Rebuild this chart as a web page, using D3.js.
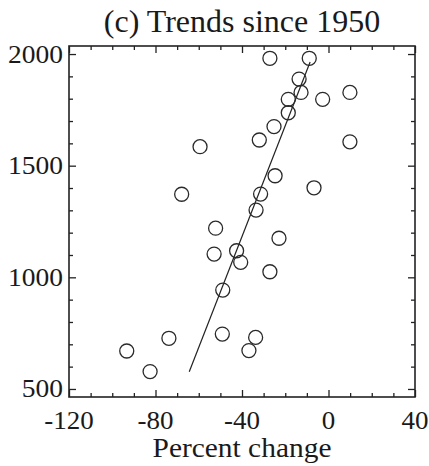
<!DOCTYPE html>
<html>
<head>
<meta charset="utf-8">
<script src="https://cdn.jsdelivr.net/npm/d3@7"></script>
<style>
  html, body { margin: 0; padding: 0; background: #fff; }
  svg { display: block; }
  text { font-family: "Liberation Serif", "DejaVu Serif", serif; fill: #1a1a1a; }
</style>
</head>
<body>
<script>
// ---- data ----
const title = "(c) Trends since 1950";
const xLabel = "Percent change";
const percentChange = [-59.4, -67.9, -27.1, -8.9, -13.6, -12.7, -18.6, -18.6, -2.7, 9.9,
                       9.9, -25.2, -32.0, -24.7, -31.4, -33.5, -6.7, -52.2, -22.9, -52.9,
                       -42.5, -40.6, -27.1, -48.9, -49.1, -33.7, -36.8, -93.3, -82.5, -73.8];
const elevation = [1585, 1372, 1981, 1981, 1888, 1828, 1797, 1737, 1797, 1828,
                   1607, 1675, 1615, 1455, 1373, 1301, 1401, 1220, 1175, 1104,
                   1119, 1067, 1025, 943, 746, 731, 672, 670, 578, 727];
const trendX = [-64.4, -8.5];
const trendY = [577, 1964];
const xTicks = [-120, -80, -40, 0, 40];
const yTicks = [500, 1000, 1500, 2000];
const xDomain = [-120, 40];
const yDomain = [464, 2036];

// ---- layout ----
const W = 429, H = 466;
const m = { left: 69, right: 14, top: 46, bottom: 69 };
const iw = W - m.left - m.right, ih = H - m.top - m.bottom;

const svg = d3.select("body").append("svg").attr("width", W).attr("height", H);
const g = svg.append("g").attr("transform", `translate(${m.left},${m.top})`);

const x = d3.scaleLinear().domain(xDomain).range([0, iw]);
const y = d3.scaleLinear().domain(yDomain).range([ih, 0]);

const minorX = d3.range(-120, 41, 10);
const minorY = d3.range(500, 2001, 100);
const stroke = "#222";

function tickLen(isMajor) { return isMajor ? 7 : 4; }
function stretch(sel, k) {
  sel.each(function () {
    const w = this.getComputedTextLength();
    d3.select(this).attr("textLength", w * k).attr("lengthAdjust", "spacingAndGlyphs");
  });
}

// bottom axis (ticks inward, labels outside)
const axBottom = g.append("g").attr("transform", `translate(0,${ih})`)
  .call(d3.axisBottom(x).tickValues(minorX).tickSize(0).tickFormat(""));
axBottom.select(".domain").remove();
axBottom.selectAll(".tick line").attr("y2", d => -tickLen(xTicks.includes(d)))
  .attr("stroke", stroke).attr("stroke-width", 1.3);
g.append("g").attr("transform", `translate(0,${ih})`)
  .selectAll("text").data(xTicks).join("text")
  .attr("x", d => x(d)).attr("y", 32).attr("text-anchor", "middle")
  .style("font-size", "25px").text(d => d)
  .call(stretch, 1.08);

// top axis
const axTop = g.append("g")
  .call(d3.axisTop(x).tickValues(minorX).tickSize(0).tickFormat(""));
axTop.select(".domain").remove();
axTop.selectAll(".tick line").attr("y2", d => tickLen(xTicks.includes(d)))
  .attr("stroke", stroke).attr("stroke-width", 1.3);

// left axis
const axLeft = g.append("g")
  .call(d3.axisLeft(y).tickValues(minorY).tickSize(0).tickFormat(""));
axLeft.select(".domain").remove();
axLeft.selectAll(".tick line").attr("x2", d => tickLen(yTicks.includes(d)))
  .attr("stroke", stroke).attr("stroke-width", 1.3);
g.append("g").selectAll("text").data(yTicks).join("text")
  .attr("x", -6).attr("y", d => y(d)).attr("dy", "0.34em").attr("text-anchor", "end")
  .style("font-size", "25px").text(d => d)
  .call(stretch, 1.1);

// right axis
const axRight = g.append("g").attr("transform", `translate(${iw},0)`)
  .call(d3.axisRight(y).tickValues(minorY).tickSize(0).tickFormat(""));
axRight.select(".domain").remove();
axRight.selectAll(".tick line").attr("x2", d => -tickLen(yTicks.includes(d)))
  .attr("stroke", stroke).attr("stroke-width", 1.3);

// frame
g.append("rect").attr("width", iw).attr("height", ih)
  .attr("fill", "none").attr("stroke", stroke).attr("stroke-width", 1.6);

// trend line
const line = d3.line().x(d => x(d[0])).y(d => y(d[1]));
g.append("path").datum(d3.zip(trendX, trendY)).attr("d", line)
  .attr("fill", "none").attr("stroke", "#222").attr("stroke-width", 1.2);

// points
g.append("g").selectAll("circle").data(d3.zip(percentChange, elevation)).join("circle")
  .attr("cx", d => x(d[0])).attr("cy", d => y(d[1])).attr("r", 7)
  .attr("fill", "none").attr("stroke", "#2a2a2a").attr("stroke-width", 1.3);

// title and axis label
svg.append("text").attr("x", m.left + iw / 2).attr("y", 32).attr("text-anchor", "middle")
  .style("font-size", "32px").text(title);
svg.append("text").attr("x", m.left + iw / 2).attr("y", 457).attr("text-anchor", "middle")
  .style("font-size", "27px").text(xLabel)
  .call(stretch, 1.09);
</script>
</body>
</html>
